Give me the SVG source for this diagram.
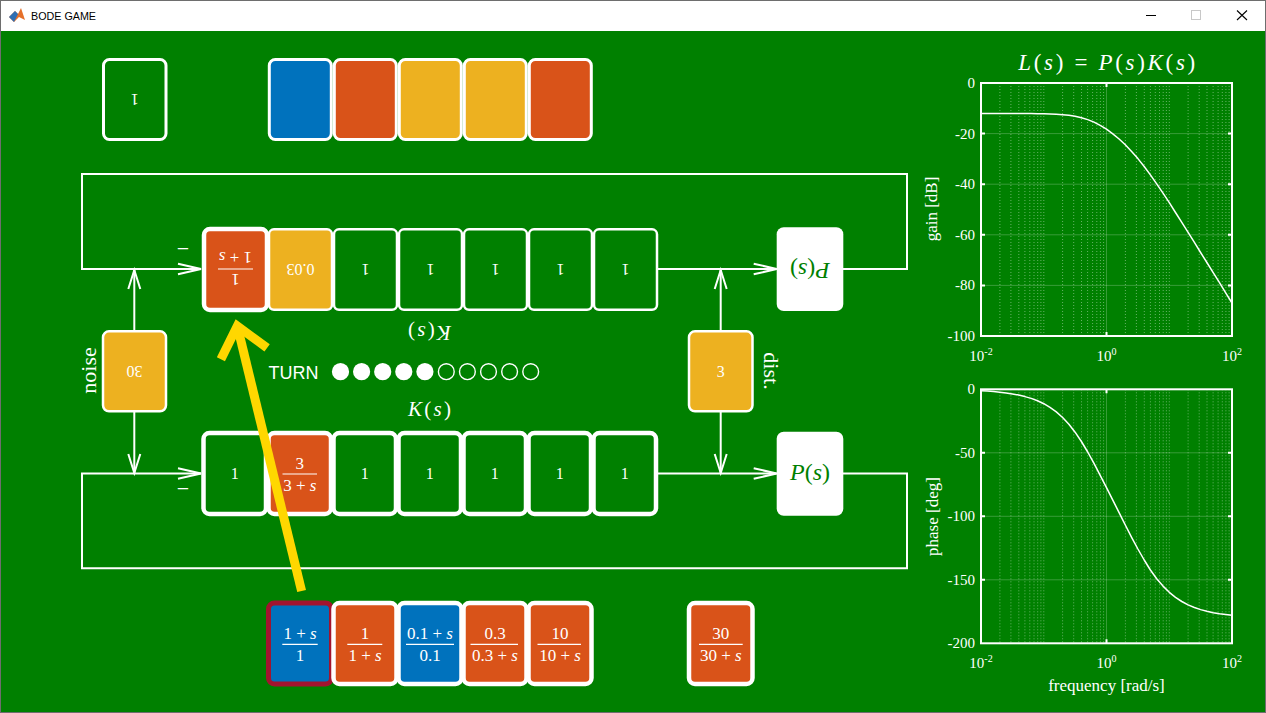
<svg xmlns="http://www.w3.org/2000/svg" width="1266" height="713" viewBox="0 0 1266 713">
<style>
.bg{fill:#008000}
.tx{font-family:"Liberation Serif","Times New Roman",serif;fill:#fff}
.it{font-style:italic}
.sans{font-family:"Liberation Sans",Arial,sans-serif}
.c{text-anchor:middle}
.e{text-anchor:end}
.ln{stroke:#fff;stroke-width:2;fill:none}
.hd{stroke:#fff;stroke-width:2;fill:none;stroke-linejoin:miter}
.thin{stroke:#fff;stroke-width:2.5}
.mid{stroke:#fff;stroke-width:3}
.thick{stroke:#fff;stroke-width:4.5}
.g{fill:#008000}.o{fill:#D95319}.y{fill:#EDB120}.b{fill:#0072BD}
.bar{stroke:#fff;stroke-width:1.2}
.v{font-size:16px}
.f{font-size:17px}
.pbox{fill:#fff}
.ptx{font-family:"Liberation Serif","Times New Roman",serif;fill:#008000;font-size:24px}
.frame{fill:none;stroke:#fff;stroke-width:2}
.minor{fill:none;stroke:#fff;stroke-opacity:0.4;stroke-width:1;stroke-dasharray:1 2}
.major{fill:none;stroke:#fff;stroke-opacity:0.22;stroke-width:1}
.curve{fill:none;stroke:#fff;stroke-width:1.5;stroke-linejoin:round}
.tick{font-size:15px}
</style>

<!-- window chrome -->
<g id="window">
<rect x="0.5" y="0.5" width="1265" height="712" fill="#fff" stroke="#6e6e6e"/>
<rect x="1" y="31" width="1264" height="681" class="bg"/>
<g id="app-icon">
<polygon points="9,17 15,11 18,14 21,8 25,20 19,17 14,22" fill="#e5702a"/>
<polygon points="9,17 15,11 18,14 14,22" fill="#2f6fb3"/>
</g>
<text x="31" y="19.5" font-family="'Liberation Sans',Arial,sans-serif" font-size="11.5" fill="#000" textLength="65" lengthAdjust="spacingAndGlyphs">BODE GAME</text>
<line x1="1146" y1="15.5" x2="1156" y2="15.5" stroke="#000" stroke-width="1"/>
<rect x="1191.5" y="10.5" width="9" height="9" fill="none" stroke="#c8c8c8" stroke-width="1"/>
<path d="M1237,10.5 L1247,20 M1247,10.5 L1237,20" stroke="#000" stroke-width="1.1" fill="none"/>
</g>

<!-- connectors -->
<g id="connectors">
<path class="ln" d="M201,269 H82 V174 H907 V269 H843"/>
<path class="ln" d="M657,269 H776.7"/>
<path class="ln" d="M201,473.5 H82 V568.3 H907 V473.5 H843"/>
<path class="ln" d="M657,473.5 H776.7"/>
<path class="ln" d="M134.3,331 V270"/>
<path class="ln" d="M134.3,412 V473"/>
<path class="ln" d="M720.7,331 V270"/>
<path class="ln" d="M720.7,412 V473"/>
<path class="hd" d="M178,263.7 L201,269 L178,274.3"/>
<path class="hd" d="M753.7,263.7 L776.7,269 L753.7,274.3"/>
<path class="hd" d="M178,468.2 L201,473.5 L178,478.8"/>
<path class="hd" d="M753.7,468.2 L776.7,473.5 L753.7,478.8"/>
<path class="hd" d="M128.3,289 L134.3,270 L140.3,289"/>
<path class="hd" d="M128.3,454 L134.3,473 L140.3,454"/>
<path class="hd" d="M714.7,289 L720.7,270 L726.7,289"/>
<path class="hd" d="M714.7,454 L720.7,473 L726.7,454"/>
</g>

<!-- sign labels -->
<text class="tx c" x="183" y="256.4" font-size="22">−</text>
<text class="tx c" x="183" y="496.4" font-size="22">−</text>

<!-- opponent deck / hand -->
<g id="opp-deck">
<rect class="g mid" x="103.5" y="59.5" width="62.5" height="80" rx="6"/>
<text class="tx c v" x="134.75" y="105" transform="rotate(180 134.75 99.5)">1</text>
</g>
<g id="opp-hand">
<rect class="b mid" x="269.3" y="59.5" width="62" height="80" rx="6"/>
<rect class="o mid" x="334.3" y="59.5" width="62" height="80" rx="6"/>
<rect class="y mid" x="399.3" y="59.5" width="62" height="80" rx="6"/>
<rect class="y mid" x="464.3" y="59.5" width="62" height="80" rx="6"/>
<rect class="o mid" x="529.3" y="59.5" width="62" height="80" rx="6"/>
</g>

<!-- opponent K(s) row (rotated) -->
<g id="opp-k1">
<rect class="o thick" x="204" y="229" width="63" height="81" rx="6"/>
<g transform="rotate(180 235.5 269.5)">
<text class="tx c f" x="235.5" y="264.7">1</text>
<line class="bar" x1="218" y1="270" x2="253" y2="270"/>
<text class="tx c f" x="235.5" y="286.7">1 + <tspan class="it">s</tspan></text>
</g>
</g>
<g id="opp-k2">
<rect class="y thin" x="269" y="229.3" width="63" height="80.5" rx="5"/>
<text class="tx c v" x="300.5" y="275" transform="rotate(180 300.5 269.5)">0.03</text>
</g>
<g id="opp-k3">
<rect class="g thin" x="334" y="229.3" width="63" height="80.5" rx="5"/>
<text class="tx c v" x="365.5" y="275" transform="rotate(180 365.5 269.5)">1</text>
</g>
<g id="opp-k4">
<rect class="g thin" x="399" y="229.3" width="63" height="80.5" rx="5"/>
<text class="tx c v" x="430.5" y="275" transform="rotate(180 430.5 269.5)">1</text>
</g>
<g id="opp-k5">
<rect class="g thin" x="464" y="229.3" width="63" height="80.5" rx="5"/>
<text class="tx c v" x="495.5" y="275" transform="rotate(180 495.5 269.5)">1</text>
</g>
<g id="opp-k6">
<rect class="g thin" x="529" y="229.3" width="63" height="80.5" rx="5"/>
<text class="tx c v" x="560.5" y="275" transform="rotate(180 560.5 269.5)">1</text>
</g>
<g id="opp-k7">
<rect class="g thin" x="594" y="229.3" width="63" height="80.5" rx="5"/>
<text class="tx c v" x="625.5" y="275" transform="rotate(180 625.5 269.5)">1</text>
</g>
<g id="opp-plant">
<rect class="pbox" x="776.7" y="227.3" width="66.6" height="83.7" rx="7"/>
<text class="ptx c" x="810" y="275.2" transform="rotate(180 810 269.2)"><tspan class="it">P</tspan>(<tspan class="it">s</tspan>)</text>
</g>
<text id="opp-k-label" class="tx c" font-size="21" x="429.5" y="337" textLength="43" transform="rotate(180 429.5 331.7)"><tspan class="it">K</tspan>(<tspan class="it">s</tspan>)</text>

<!-- noise / disturbance -->
<g id="noise">
<rect class="y thin" x="103" y="331.3" width="63" height="80" rx="6"/>
<text class="tx c v" x="134.5" y="376.8" transform="rotate(180 134.5 371.3)">30</text>
<text class="tx c" font-size="22" x="96" y="370.5" transform="rotate(-90 96 370.5)">noise</text>
</g>
<g id="dist">
<rect class="y thin" x="689" y="331.3" width="63.5" height="80" rx="6"/>
<text class="tx c v" x="720.75" y="376.8">3</text>
<text class="tx c" font-size="22" x="764" y="371" transform="rotate(90 764 371)">dist.</text>
</g>

<!-- turn indicator -->
<g id="turn">
<text class="sans" x="268.6" y="378.7" font-size="18" fill="#fff">TURN</text>
<g fill="#fff">
<circle cx="340.5" cy="371.7" r="8.6"/>
<circle cx="361.6" cy="371.7" r="8.6"/>
<circle cx="382.7" cy="371.7" r="8.6"/>
<circle cx="403.8" cy="371.7" r="8.6"/>
<circle cx="424.9" cy="371.7" r="8.6"/>
</g>
<g fill="none" stroke="#fff" stroke-width="1.4">
<circle cx="446.3" cy="371.7" r="7.9"/>
<circle cx="467.4" cy="371.7" r="7.9"/>
<circle cx="488.5" cy="371.7" r="7.9"/>
<circle cx="509.6" cy="371.7" r="7.9"/>
<circle cx="530.7" cy="371.7" r="7.9"/>
</g>
</g>

<text id="k-label" class="tx c" font-size="21" x="429.5" y="416" textLength="43"><tspan class="it">K</tspan>(<tspan class="it">s</tspan>)</text>

<!-- player K(s) row -->
<g id="k1">
<rect class="g thick" x="203.5" y="433" width="62.5" height="81" rx="6"/>
<text class="tx c v" x="234.75" y="479">1</text>
</g>
<g id="k2">
<rect class="o thick" x="268.5" y="433" width="62.5" height="81" rx="6"/>
<text class="tx c f" x="299.75" y="468.7">3</text>
<line class="bar" x1="282.5" y1="474" x2="317" y2="474"/>
<text class="tx c f" x="299.75" y="490.7">3 + <tspan class="it">s</tspan></text>
</g>
<g id="k3">
<rect class="g thick" x="333.5" y="433" width="62.5" height="81" rx="6"/>
<text class="tx c v" x="364.75" y="479">1</text>
</g>
<g id="k4">
<rect class="g thick" x="398.5" y="433" width="62.5" height="81" rx="6"/>
<text class="tx c v" x="429.75" y="479">1</text>
</g>
<g id="k5">
<rect class="g thick" x="463.5" y="433" width="62.5" height="81" rx="6"/>
<text class="tx c v" x="494.75" y="479">1</text>
</g>
<g id="k6">
<rect class="g thick" x="528.5" y="433" width="62.5" height="81" rx="6"/>
<text class="tx c v" x="559.75" y="479">1</text>
</g>
<g id="k7">
<rect class="g thick" x="593.5" y="433" width="62.5" height="81" rx="6"/>
<text class="tx c v" x="624.75" y="479">1</text>
</g>
<g id="plant">
<rect class="pbox" x="776.7" y="431.7" width="66.6" height="84" rx="7"/>
<text class="ptx c" x="810" y="480.2"><tspan class="it">P</tspan>(<tspan class="it">s</tspan>)</text>
</g>

<!-- player hand -->
<g id="hand1">
<rect class="b" x="268.5" y="603" width="63" height="81" rx="6" stroke="#A2142F" stroke-width="5"/>
<text class="tx c f" x="300" y="638.7">1 + <tspan class="it">s</tspan></text>
<line class="bar" x1="282.3" y1="644.3" x2="317.7" y2="644.3"/>
<text class="tx c f" x="300" y="660.7">1</text>
</g>
<g id="hand2">
<rect class="o thick" x="333.5" y="603" width="63" height="81" rx="6"/>
<text class="tx c f" x="365" y="638.7">1</text>
<line class="bar" x1="347.3" y1="644.3" x2="382.3" y2="644.3"/>
<text class="tx c f" x="365" y="660.7">1 + <tspan class="it">s</tspan></text>
</g>
<g id="hand3">
<rect class="b thick" x="398.5" y="603" width="63" height="81" rx="6"/>
<text class="tx c f" x="430" y="638.7">0.1 + <tspan class="it">s</tspan></text>
<line class="bar" x1="406" y1="644.3" x2="454" y2="644.3"/>
<text class="tx c f" x="430" y="660.7">0.1</text>
</g>
<g id="hand4">
<rect class="o thick" x="463.5" y="603" width="63" height="81" rx="6"/>
<text class="tx c f" x="495" y="638.7">0.3</text>
<line class="bar" x1="470.5" y1="644.3" x2="518" y2="644.3"/>
<text class="tx c f" x="495" y="660.7">0.3 + <tspan class="it">s</tspan></text>
</g>
<g id="hand5">
<rect class="o thick" x="528.5" y="603" width="63" height="81" rx="6"/>
<text class="tx c f" x="560" y="638.7">10</text>
<line class="bar" x1="537.5" y1="644.3" x2="581" y2="644.3"/>
<text class="tx c f" x="560" y="660.7">10 + <tspan class="it">s</tspan></text>
</g>
<g id="hand-extra">
<rect class="o thick" x="689" y="603" width="63.5" height="81" rx="6"/>
<text class="tx c f" x="720.75" y="638.7">30</text>
<line class="bar" x1="699" y1="644.3" x2="742.7" y2="644.3"/>
<text class="tx c f" x="720.75" y="660.7">30 + <tspan class="it">s</tspan></text>
</g>

<!-- move arrow -->
<g id="move-arrow" fill="none" stroke="#FFD700" stroke-width="9">
<line x1="301.6" y1="591" x2="237.3" y2="326"/>
<polyline points="220.9,359.2 237.3,326 267.1,347.9" stroke-linejoin="miter" stroke-miterlimit="10"/>
</g>

<!-- Bode plots -->
<g id="bode">
<text class="tx c" font-size="23" x="1106.7" y="69.7" textLength="177" lengthAdjust="spacing"><tspan class="it">L</tspan>(<tspan class="it">s</tspan>) = <tspan class="it">P</tspan>(<tspan class="it">s</tspan>)<tspan class="it">K</tspan>(<tspan class="it">s</tspan>)</text>

<g id="gain-axes">
<path class="minor" d="M999.9 83V336M1010.9 83V336M1018.8 83V336M1024.9 83V336M1029.8 83V336M1034 83V336M1037.7 83V336M1040.9 83V336M1043.8 83V336M1062.6 83V336M1073.7 83V336M1081.5 83V336M1087.6 83V336M1092.6 83V336M1096.8 83V336M1100.4 83V336M1103.6 83V336M1125.4 83V336M1136.4 83V336M1144.3 83V336M1150.4 83V336M1155.3 83V336M1159.5 83V336M1163.2 83V336M1166.4 83V336M1169.3 83V336M1188.1 83V336M1199.2 83V336M1207 83V336M1213.1 83V336M1218.1 83V336M1222.3 83V336M1225.9 83V336M1229.1 83V336"/>
<path class="major" d="M1106.5 83V336M981 133.6H1232M981 184.2H1232M981 234.8H1232M981 285.4H1232"/>
<path class="ln" d="M981 133.6h4M981 184.2h4M981 234.8h4M981 285.4h4M1232 133.6h-4M1232 184.2h-4M1232 234.8h-4M1232 285.4h-4M1106.5 83v4M1106.5 336v-4"/>
<polyline class="curve" points="981,113.5 987.3,113.5 993.6,113.5 999.8,113.5 1006.1,113.5 1012.4,113.5 1018.7,113.5 1024.9,113.5 1031.2,113.6 1037.5,113.7 1043.8,113.8 1050,114 1056.3,114.2 1062.6,114.7 1068.9,115.3 1075.1,116.3 1081.4,117.7 1087.7,119.6 1094,122.1 1100.2,125.3 1106.5,129.2 1112.8,133.8 1119.1,139 1125.3,144.8 1131.6,151.4 1137.9,158.6 1144.2,166.5 1150.4,174.9 1156.7,183.9 1163,193.2 1169.3,202.6 1175.5,212.5 1181.8,222.4 1188.1,232.4 1194.4,242.4 1200.6,252.5 1206.9,262.5 1213.2,272.6 1219.5,282.7 1225.7,292.8 1232,303"/>
<rect class="frame" x="981" y="83" width="251" height="253"/>
<g class="tx e tick">
<text x="975" y="88">0</text>
<text x="975" y="138.6">-20</text>
<text x="975" y="189.2">-40</text>
<text x="975" y="239.8">-60</text>
<text x="975" y="290.4">-80</text>
<text x="975" y="341">-100</text>
</g>
<g class="tx c tick">
<text x="981" y="360.5">10<tspan font-size="10" dy="-6">-2</tspan></text>
<text x="1106.5" y="360.5">10<tspan font-size="10" dy="-6">0</tspan></text>
<text x="1232" y="360.5">10<tspan font-size="10" dy="-6">2</tspan></text>
</g>
<text class="tx c" font-size="17" x="937" y="209" transform="rotate(-90 937 209)">gain [dB]</text>
</g>

<g id="phase-axes">
<path class="minor" d="M999.9 389.3V643.3M1010.9 389.3V643.3M1018.8 389.3V643.3M1024.9 389.3V643.3M1029.8 389.3V643.3M1034 389.3V643.3M1037.7 389.3V643.3M1040.9 389.3V643.3M1043.8 389.3V643.3M1062.6 389.3V643.3M1073.7 389.3V643.3M1081.5 389.3V643.3M1087.6 389.3V643.3M1092.6 389.3V643.3M1096.8 389.3V643.3M1100.4 389.3V643.3M1103.6 389.3V643.3M1125.4 389.3V643.3M1136.4 389.3V643.3M1144.3 389.3V643.3M1150.4 389.3V643.3M1155.3 389.3V643.3M1159.5 389.3V643.3M1163.2 389.3V643.3M1166.4 389.3V643.3M1169.3 389.3V643.3M1188.1 389.3V643.3M1199.2 389.3V643.3M1207 389.3V643.3M1213.1 389.3V643.3M1218.1 389.3V643.3M1222.3 389.3V643.3M1225.9 389.3V643.3M1229.1 389.3V643.3"/>
<path class="major" d="M1106.5 389.3V643.3M981 452.8H1232M981 516.3H1232M981 579.8H1232"/>
<path class="ln" d="M981 452.8h4M981 516.3h4M981 579.8h4M1232 452.8h-4M1232 516.3h-4M1232 579.8h-4M1106.5 389.3v4M1106.5 643.3v-4"/>
<polyline class="curve" points="981,390.8 987.3,391.1 993.6,391.6 999.8,392.2 1006.1,393 1012.4,393.9 1018.7,395.1 1024.9,396.6 1031.2,398.4 1037.5,400.8 1043.8,403.7 1050,407.4 1056.3,411.9 1062.6,417.5 1068.9,424.2 1075.1,432.2 1081.4,441.5 1087.7,452 1094,463.4 1100.2,475.4 1106.5,487.7 1112.8,500.2 1119.1,512.6 1125.3,525 1131.6,537.3 1137.9,549 1144.2,560 1150.4,570 1156.7,578.7 1163,586.1 1169.3,592.3 1175.5,597.4 1181.8,601.5 1188.1,604.9 1194.4,607.5 1200.6,609.6 1206.9,611.3 1213.2,612.7 1219.5,613.8 1225.7,614.6 1232,615.3"/>
<rect class="frame" x="981" y="389.3" width="251" height="254"/>
<g class="tx e tick">
<text x="975" y="394.3">0</text>
<text x="975" y="457.8">-50</text>
<text x="975" y="521.3">-100</text>
<text x="975" y="584.8">-150</text>
<text x="975" y="648.3">-200</text>
</g>
<g class="tx c tick">
<text x="981" y="668">10<tspan font-size="10" dy="-6">-2</tspan></text>
<text x="1106.5" y="668">10<tspan font-size="10" dy="-6">0</tspan></text>
<text x="1232" y="668">10<tspan font-size="10" dy="-6">2</tspan></text>
</g>
<text class="tx c" font-size="17" x="938" y="516.5" transform="rotate(-90 938 516.5)">phase [deg]</text>
<text class="tx c" font-size="17" x="1106.5" y="691">frequency [rad/s]</text>
</g>
</g>
</svg>
